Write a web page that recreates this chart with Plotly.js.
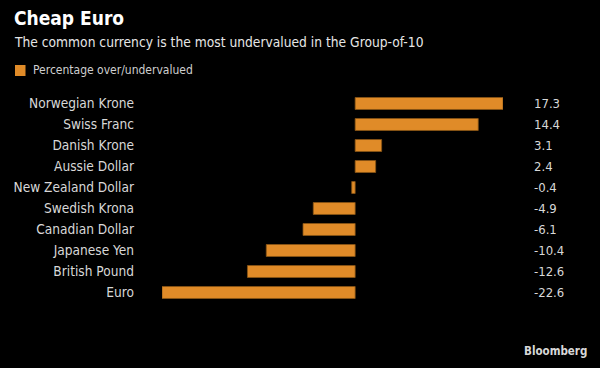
<!DOCTYPE html>
<html><head><meta charset="utf-8">
<script src="https://cdn.plot.ly/plotly-3.0.1.min.js"></script>
<style>html,body{margin:0;padding:0;background:#000;}#chart{width:600px;height:368px;}</style>
</head><body><div id="chart"></div>
<script>
const categories = ["Norwegian Krone","Swiss Franc","Danish Krone","Aussie Dollar","New Zealand Dollar","Swedish Krona","Canadian Dollar","Japanese Yen","British Pound","Euro"];
const values = [17.3, 14.4, 3.1, 2.4, -0.4, -4.9, -6.1, -10.4, -12.6, -22.6];
const seriesName = "Percentage over/undervalued";
const titleText = "Cheap Euro";
const subtitleText = "The common currency is the most undervalued in the Group-of-10";
const sourceText = "Bloomberg";

const FONT = "DejaVu Sans Condensed, DejaVu Sans, sans-serif";
const ORANGE = "#E08B28";

// plot area in pixels: x 162..503, y 93..303
const L = 162, R = 97, T = 93, B = 65, W = 600, H = 368;
const PW = W - L - R, PH = H - T - B;
const px = v => (v - L) / PW;
const py = v => (H - B - v) / PH;

const trace = {
  type: "bar", orientation: "h",
  x: values, y: categories, name: seriesName,
  marker: {color: ORANGE, line: {color: "#8a5515", width: 0.8}},
  hoverinfo: "none", showlegend: false
};

const annotations = categories.map((c, i) => ({
  xref: "paper", x: 1, xanchor: "left", xshift: 29,
  yref: "y", y: c, yanchor: "middle",
  text: values[i].toFixed(1), showarrow: false,
  font: {family: FONT, size: 13, color: "#d8d8d8"}
}));
annotations.push({
  xref: "paper", yref: "paper", x: px(12), y: py(42), xanchor: "left", yanchor: "middle",
  text: subtitleText, showarrow: false,
  font: {family: FONT, size: 13.7, color: "#e6e6e6"}
});
annotations.push({
  xref: "paper", yref: "paper", x: px(31), y: py(70.5), xanchor: "left", yanchor: "middle",
  text: seriesName, showarrow: false,
  font: {family: FONT, size: 12, color: "#cfcfcf"}
});
annotations.push({
  xref: "paper", yref: "paper", x: px(589), y: py(351), xanchor: "right", yanchor: "middle",
  text: "<b>" + sourceText + "</b>", showarrow: false,
  font: {family: "DejaVu Sans Condensed, DejaVu Sans, sans-serif", size: 11.5, color: "#d8d8d8"}
});

const layout = {
  width: W, height: H,
  paper_bgcolor: "#000", plot_bgcolor: "#000",
  margin: {l: L, r: R, t: T, b: B},
  bargap: 0.43,
  title: {
    text: "<b>" + titleText + "</b>",
    x: 14 / W, xanchor: "left", xref: "container",
    y: 1 - 18 / H, yanchor: "middle", yref: "container",
    font: {family: FONT, size: 19, color: "#ffffff"}
  },
  xaxis: {range: [-22.6, 17.3], visible: false, fixedrange: true},
  yaxis: {
    type: "category", autorange: "reversed", showgrid: false, zeroline: false,
    showline: false, ticks: "", ticklabelstandoff: 27, automargin: false,
    tickfont: {family: FONT, size: 13.6, color: "#d8d8d8"}
  },
  showlegend: false,
  shapes: [{
    type: "rect", xref: "paper", yref: "paper",
    x0: px(15), x1: px(25.5), y0: py(65), y1: py(76),
    fillcolor: ORANGE, line: {width: 0}
  }],
  annotations: annotations
};

Plotly.newPlot("chart", [trace], layout, {displayModeBar: false, staticPlot: true});
</script></body></html>
